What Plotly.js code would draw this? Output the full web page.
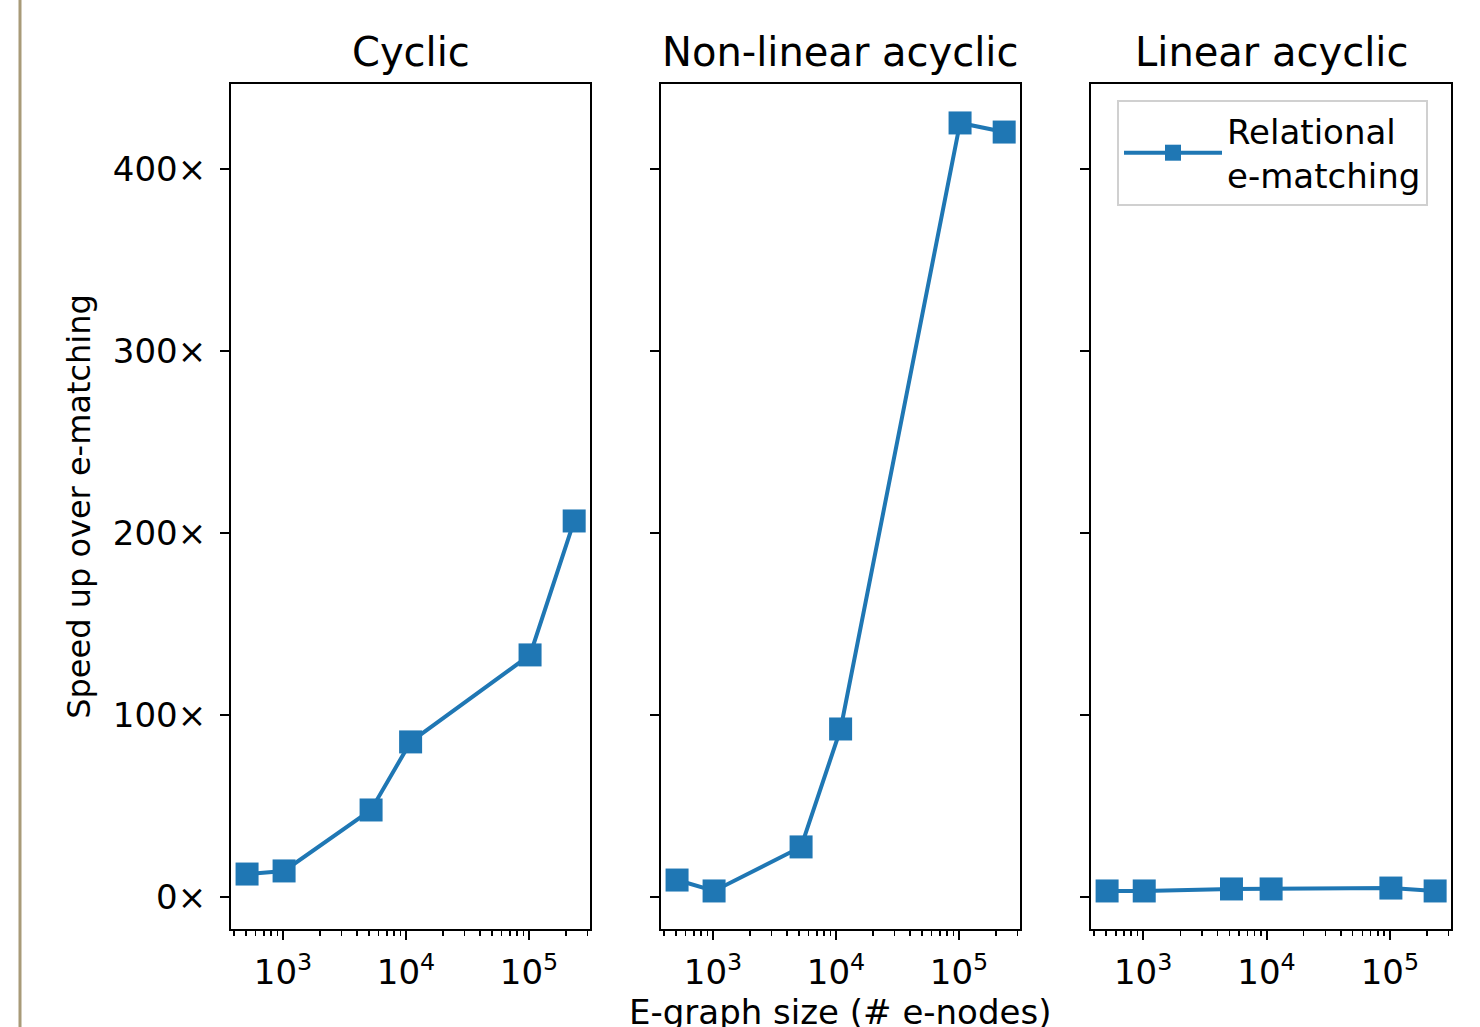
<!DOCTYPE html>
<html>
<head>
<meta charset="utf-8">
<script src="https://cdn.plot.ly/plotly-3.0.1.min.js"></script>
<style>html,body{margin:0;padding:0;background:#fff;}#chart{width:1480px;height:1027px;}</style>
</head>
<body>
<div id="chart"></div>
<script>
// ---- data ----
const panelTitles = ["Cyclic", "Non-linear acyclic", "Linear acyclic"];
const xTitle = "E-graph size (# e-nodes)";
const yTitle = "Speed up over e-matching";
const graphSizes = [510, 1020, 5200, 10900, 102000, 233000];
const cyclicSpeedup = [12.6, 14.3, 47.8, 85.2, 133, 206.6];
const nonLinearSpeedup = [9.3, 3.3, 27.5, 92.3, 425.3, 420.3];
const linearSpeedup = [3.3, 3.3, 4.4, 4.4, 4.9, 3.3];
const seriesName = "Relational<br>e-matching";
const yTickVals = [0, 100, 200, 300, 400];
const yTickText = ["0×", "100×", "200×", "300×", "400×"];
const xTickVals = [1000, 10000, 100000];
const xTickText = ["10<sup>3</sup>", "10<sup>4</sup>", "10<sup>5</sup>"];
const xMinorVals = [];
for (const dec of [100, 1000, 10000, 100000]) {
  for (let m = 2; m <= 9; m++) xMinorVals.push(m * dec);
}

const W = 1480, H = 1027;
const blue = "#1f77b4";
const font = "DejaVu Sans, sans-serif";
const fs = 34;

const panelPx = [[231, 590], [661, 1020], [1091, 1451]];
const yDom = [1 - 929 / H, 1 - 84 / H];

const seriesList = [cyclicSpeedup, nonLinearSpeedup, linearSpeedup];
const traces = seriesList.map((ys, i) => ({
  type: "scatter",
  mode: "lines+markers",
  x: graphSizes,
  y: ys,
  name: seriesName,
  xaxis: i === 0 ? "x" : "x" + (i + 1),
  yaxis: i === 0 ? "y" : "y" + (i + 1),
  line: {color: blue, width: 4},
  marker: {symbol: "square", size: 23, color: blue},
  showlegend: i === 2,
  cliponaxis: false
}));

function xAxis(i) {
  return {
    type: "log",
    domain: [panelPx[i][0] / W, panelPx[i][1] / W],
    range: [2.577, 5.496],
    anchor: i === 0 ? "y" : "y" + (i + 1),
    tickvals: xTickVals,
    ticktext: xTickText,
    ticks: "outside", ticklen: 9, tickwidth: 2, tickcolor: "black",
    minor: {tickvals: xMinorVals, ticks: "outside", ticklen: 5, tickwidth: 1.5, tickcolor: "black", showgrid: false},
    showline: true, mirror: true, linecolor: "black", linewidth: 2,
    showgrid: false, zeroline: false,
    ticklabelstandoff: 3,
    tickfont: {family: font, size: fs, color: "black"}
  };
}
function yAxis(i) {
  const ax = {
    domain: yDom,
    range: [-17.6, 446.7],
    anchor: i === 0 ? "x" : "x" + (i + 1),
    tickvals: yTickVals,
    ticktext: yTickText,
    showticklabels: i === 0,
    ticks: "outside", ticklen: 9, tickwidth: 2, tickcolor: "black",
    showline: true, mirror: true, linecolor: "black", linewidth: 2,
    showgrid: false, zeroline: false,
    ticklabelstandoff: 7,
    tickfont: {family: font, size: fs, color: "black"}
  };
  if (i === 0) ax.title = {text: yTitle, font: {family: font, size: 32, color: "black"}, standoff: 13};
  return ax;
}

const annotations = panelTitles.map((t, i) => ({
  text: t, showarrow: false,
  xref: "paper", yref: "paper",
  x: (panelPx[i][0] + panelPx[i][1]) / 2 / W,
  y: 1 - 52 / H, xanchor: "center", yanchor: "middle",
  font: {family: font, size: 40, color: "black"}
}));
annotations.push({
  text: xTitle, showarrow: false,
  xref: "paper", yref: "paper",
  x: (panelPx[1][0] + panelPx[1][1]) / 2 / W,
  y: 1 - 1012 / H, xanchor: "center", yanchor: "middle",
  font: {family: font, size: fs, color: "black"}
});

const layout = {
  width: W, height: H,
  margin: {l: 0, r: 0, t: 0, b: 0},
  paper_bgcolor: "white", plot_bgcolor: "white",
  font: {family: font, size: fs, color: "black"},
  xaxis: xAxis(0), xaxis2: xAxis(1), xaxis3: xAxis(2),
  yaxis: yAxis(0), yaxis2: yAxis(1), yaxis3: yAxis(2),
  legend: {
    x: 1117 / W, y: 1 - 100 / H, xanchor: "left", yanchor: "top",
    bgcolor: "white", bordercolor: "#d0d0d0", borderwidth: 2,
    font: {family: font, size: fs, color: "black"},
    itemwidth: 98
  },
  annotations: annotations,
  shapes: [{
    type: "line", xref: "paper", yref: "paper",
    x0: 20 / W, x1: 20 / W, y0: 0, y1: 1,
    line: {color: "#a89a78", width: 3}
  }]
};

Plotly.newPlot("chart", traces, layout, {displayModeBar: false, staticPlot: true});
</script>
</body>
</html>
